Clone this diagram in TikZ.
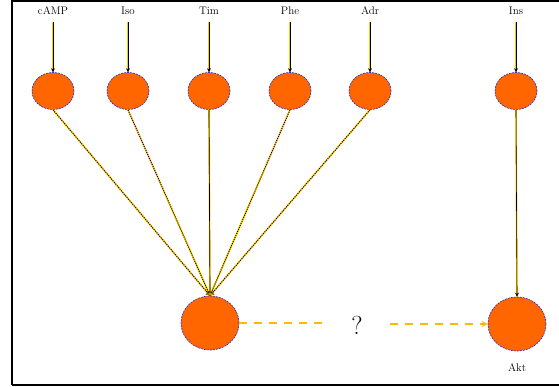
\documentclass[tikz,border=0pt]{standalone}
\usetikzlibrary{arrows.meta,shapes.geometric,calc}
\definecolor{nodeor}{RGB}{255,102,0}
\definecolor{gold}{RGB}{255,200,0}
\definecolor{rimblue}{RGB}{40,40,200}
\begin{document}
\begin{tikzpicture}[x=1pt,y=-1pt,
  small/.style={ellipse, draw=rimblue, line width=0.6pt, dash pattern=on 2pt off 1pt, fill=nodeor, minimum width=42pt, minimum height=37pt, inner sep=0pt},
  big/.style={small, minimum width=58pt, minimum height=54pt},
  lbl/.style={font=\fontsize{11}{13}\selectfont, inner sep=0pt},
  feed/.style={gold, line width=1.6pt},
  feedk/.style={black, line width=0.6pt, -{Stealth[length=4pt,width=4pt]}},
  diag/.style={gold, line width=1.6pt},
  diagk/.style={black, line width=0.9pt, dash pattern=on 1pt off 1.2pt},
  link/.style={gold!80!orange, line width=1.4pt, dash pattern=on 8pt off 7pt}
]
\useasboundingbox (0,0) rectangle (559,387);
\draw[line width=1.5pt] (12,385) -- (12,1) -- (559,1);
\draw[line width=1.5pt] (12,385) -- (559,385);

\foreach \n/\x/\t in {a/53/cAMP, b/128/Iso, c/209/Tim, d/290/Phe, e/370/Adr, f/516/Ins}{
  \node[lbl] (t\n) at (\x,11) {\t};
  \node[small] (\n) at (\x,91) {};
  \coordinate (s\n) at (\x,22);
  \draw[feed] (s\n) -- (\n.north);
  \draw[feedk] (s\n) -- (\n.north);
}

\node[big] (m) at (210,323) {};
\node[big] (k) at (517,324) {};
\node[lbl] (kl) at (517,368) {Akt};
\node[inner sep=0pt, minimum width=66pt, text=black, font=\fontsize{26}{28}\selectfont] (q) at (357,325) {?};

\foreach \n in {a,b,d,e}{
  \draw[diag] (\n.south) -- (m.north);
  \draw[diagk] (\n.south) -- (m.north);
}
\draw[diag] (c.south) -- (m.north);
\draw[black, line width=0.7pt, -{Stealth[length=4pt,width=5pt]}] (c.south) -- (m.north);
\foreach \n in {a,b,d,e}{
  \draw[black, line width=0.1pt, -{Stealth[length=4pt,width=5pt,fill=gold]}] ($(\n.south)!0.97!(m.north)$) -- (m.north);
}
\draw[feed] (f.south) -- (k.north);
\draw[black, line width=0.6pt, -{Stealth[length=4pt,width=4pt]}] (f.south) -- (k.north);

\draw[link] (m.east) -- (m.east -| q.west);
\draw[link, -{Stealth[length=6pt,width=6pt]}] (k.west -| q.east) -- (k.west);
\end{tikzpicture}
\end{document}
